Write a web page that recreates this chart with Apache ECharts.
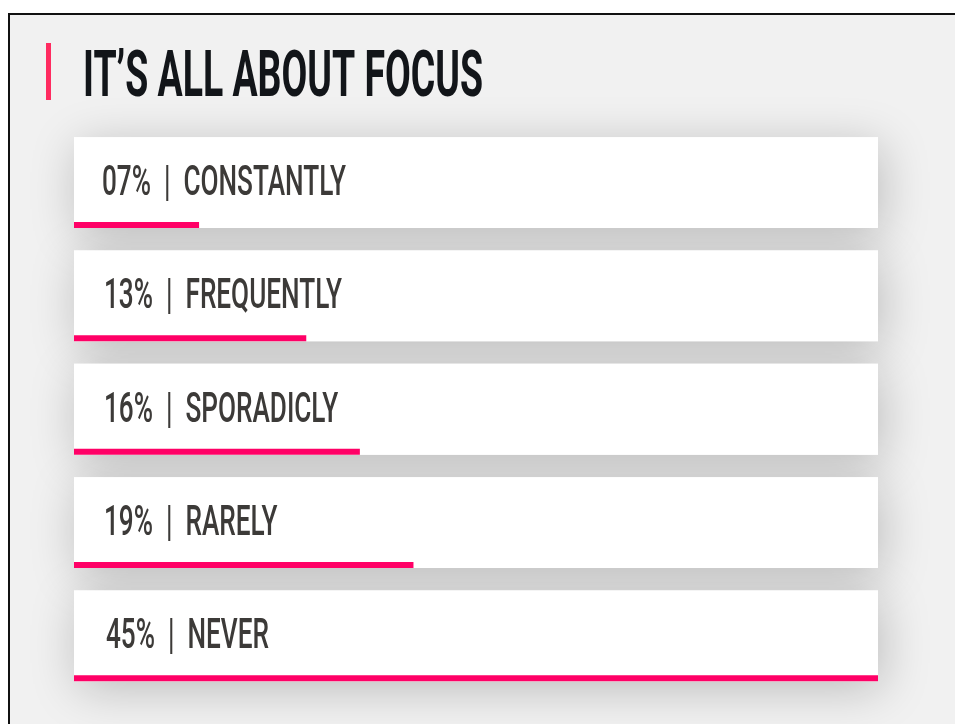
<!DOCTYPE html>
<html>
<head>
<meta charset="utf-8">
<title>It's all about focus</title>
<script src="https://cdn.jsdelivr.net/npm/echarts@6/dist/echarts.min.js"></script>
<style>
  html, body { margin: 0; padding: 0; background: #ffffff; }
  #chart { width: 955px; height: 724px; }
</style>
</head>
<body>
<div id="chart"></div>
<script>
// Survey answers, top to bottom
const categories = ['CONSTANTLY', 'FREQUENTLY', 'SPORADICLY', 'RARELY', 'NEVER'];
const percentLabels = ['07%', '13%', '16%', '19%', '45%'];
const values = [7, 13, 16, 19, 45];
const titleText = 'IT\u2019S ALL ABOUT FOCUS';

const FONT_FAMILY = 'Roboto, "Noto Sans", sans-serif';
const PINK = '#ff0066';
const TITLE_SIZE = 65;
const LABEL_SIZE = 42;

// Horizontal squeeze so a regular face reads like a condensed display face.
const measureCtx = document.createElement('canvas').getContext('2d');
function squeezeFor(text, size, weight, targetWidth) {
  measureCtx.font = weight + ' ' + size + 'px ' + FONT_FAMILY;
  return targetWidth / measureCtx.measureText(text).width;
}
function labelText(i) {
  return percentLabels[i] + '  |  ' + categories[i];
}
const titleScale = squeezeFor(titleText, TITLE_SIZE, 'bold', 400);
const labelScale = squeezeFor(labelText(0), LABEL_SIZE, 500, 244);

const chart = echarts.init(document.getElementById('chart'), null, { renderer: 'canvas' });

function renderCard(params, api) {
  const cat = api.value(1);
  const val = api.value(0);
  const start = api.coord([0, cat]);
  const end = api.coord([val, cat]);
  const band = api.size([0, 1])[1];
  const cs = params.coordSys;
  const cardH = band - 22.5;
  const top = start[1] - cardH / 2;
  const i = params.dataIndex;
  return {
    type: 'group',
    children: [
      { // soft drop shadow under the card
        type: 'rect', z2: 0,
        shape: { x: cs.x, y: top, width: cs.width, height: cardH },
        style: { fill: '#ffffff', shadowBlur: 48, shadowColor: 'rgba(0,0,0,0.22)', shadowOffsetY: 8, shadowOffsetX: 4 }
      },
      { // card face
        type: 'rect', z2: 5,
        shape: { x: cs.x, y: top, width: cs.width, height: cardH },
        style: { fill: '#ffffff' }
      },
      { // value bar along the card's bottom edge
        type: 'rect', z2: 6,
        shape: { x: start[0], y: top + cardH - 6, width: end[0] - start[0], height: 6 },
        style: { fill: PINK }
      },
      {
        type: 'text', z2: 7,
        x: cs.x + 28 + (i === 4 ? 4 : i > 0 ? 2 : 0), y: start[1] + 2,
        scaleX: labelScale,
        style: {
          text: labelText(i),
          fontFamily: FONT_FAMILY, fontSize: LABEL_SIZE, fontWeight: 500,
          fill: '#3c3a38', verticalAlign: 'middle', align: 'left'
        }
      }
    ]
  };
}

chart.setOption({
  backgroundColor: '#ffffff',
  animation: false,
  graphic: [
    { // page frame
      type: 'rect', z: -10,
      shape: { x: 9, y: 14, width: 1100, height: 1000 },
      style: { fill: '#f1f1f1', stroke: '#111111', lineWidth: 2 }
    },
    { // accent mark beside the heading
      type: 'rect',
      shape: { x: 46, y: 43, width: 5, height: 57 },
      style: { fill: '#ff2b60' }
    },
    {
      type: 'text',
      x: 83, y: 80,
      scaleX: titleScale,
      style: {
        text: titleText,
        fontFamily: FONT_FAMILY, fontSize: TITLE_SIZE, fontWeight: 'bold',
        fill: '#121519', verticalAlign: 'middle', align: 'left'
      }
    }
  ],
  grid: { left: 74, right: 77, top: 126, height: 566.5, containLabel: false },
  xAxis: {
    type: 'value', min: 0, max: 45,
    show: false
  },
  yAxis: {
    type: 'category', data: categories, inverse: true,
    show: false
  },
  series: [{
    type: 'custom',
    renderItem: renderCard,
    encode: { x: 0, y: 1 },
    data: values.map((v, i) => [v, categories[i]])
  }]
});
</script>
</body>
</html>
